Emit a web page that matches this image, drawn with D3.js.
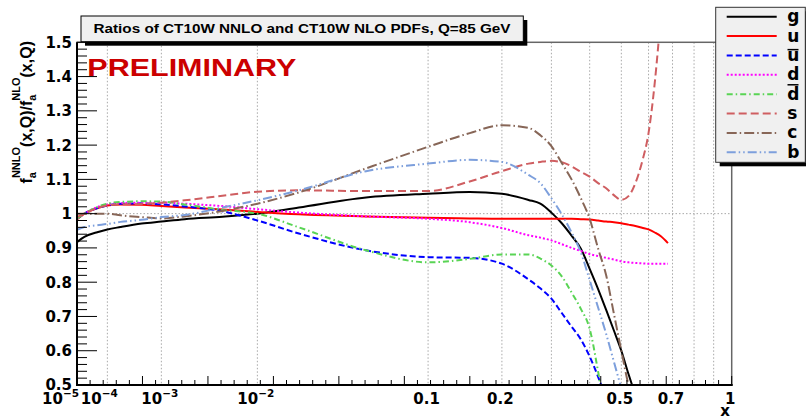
<!DOCTYPE html>
<html>
<head>
<meta charset="utf-8" />
<script src="https://d3js.org/d3.v7.min.js"></script>
<style>
    body { margin: 0; background: #fff; }
    svg { display: block; }
    text { font-family: "Liberation Sans", Arial, sans-serif; font-weight: bold; }
</style>
</head>
<body>
<svg id="chart" width="806" height="418"></svg>
<script>
    // ---- data (ratio NNLO/NLO at Q = 85 GeV) ----
    var xGrid = [1e-5, 2e-5, 5e-5, 1e-4, 2e-4, 5e-4, 1e-3, 2e-3, 5e-3, 0.01, 0.02, 0.05,
                 0.1, 0.15, 0.2, 0.25, 0.275, 0.3, 0.325, 0.35, 0.375, 0.4, 0.425, 0.45,
                 0.475, 0.5, 0.525, 0.55, 0.575, 0.6, 0.625, 0.65, 0.68];

    var gluon = [0.917, 0.932, 0.945, 0.954, 0.961, 0.971, 0.977, 0.984, 0.991, 1.0, 1.018, 1.047,
                 1.058, 1.063, 1.058, 1.040, 1.029, 1.003, 0.972, 0.936, 0.898, 0.839, 0.780, 0.719,
                 0.659, 0.600, 0.532, 0.47, null, null, null, null, null];
    var upQ = [0.983, 1.0, 1.015, 1.024, 1.027, 1.026, 1.022, 1.018, 1.012, 1.005, 0.998, 0.992,
               0.988, 0.986, 0.985, 0.985, 0.985, 0.985, 0.985, 0.985, 0.984, 0.983, 0.980, 0.977,
               0.975, 0.972, 0.968, 0.964, 0.959, 0.954, 0.945, 0.934, 0.914];
    var upBar = [0.985, 1.0, 1.015, 1.024, 1.029, 1.030, 1.027, 1.021, 1.007, 0.980, 0.942, 0.893,
                 0.873, 0.871, 0.854, 0.808, 0.782, 0.752, 0.710, 0.670, 0.633, 0.583, 0.524, 0.46,
                 null, null, null, null, null, null, null, null, null];
    var downQ = [0.985, 1.0, 1.018, 1.027, 1.031, 1.032, 1.032, 1.029, 1.022, 1.013, 1.003, 0.992,
                 0.985, 0.975, 0.958, 0.937, 0.930, 0.922, 0.911, 0.900, 0.891, 0.882, 0.876, 0.871,
                 0.866, 0.861, 0.858, 0.856, 0.855, 0.854, 0.854, 0.854, 0.854];
    var downBar = [0.985, 1.0, 1.018, 1.029, 1.034, 1.036, 1.035, 1.027, 1.011, 1.0, 0.960, 0.893,
                   0.858, 0.868, 0.881, 0.881, 0.869, 0.849, 0.817, 0.770, 0.722, 0.664, 0.539, 0.40,
                   null, null, null, null, null, null, null, null, null];
    var strange = [0.99, 1.0, 1.015, 1.024, 1.027, 1.028, 1.032, 1.039, 1.052, 1.064, 1.068, 1.066,
                   1.066, 1.094, 1.124, 1.146, 1.151, 1.154, 1.150, 1.138, 1.122, 1.108, 1.089, 1.074,
                   1.054, 1.040, 1.051, 1.089, 1.151, 1.235, 1.383, 1.58, null];
    var charm = [1.0, 1.0, 1.0, 1.0, 0.995, 0.99, 0.986, 0.992, 1.008, 1.029, 1.062, 1.132,
                 1.195, 1.235, 1.258, 1.250, 1.229, 1.197, 1.148, 1.100, 1.045, 0.985, 0.898, 0.820,
                 0.708, 0.600, 0.50, 0.43, null, null, null, null, null];
    var bottom = [0.953, 0.961, 0.966, 0.970, 0.976, 0.982, 0.990, 0.996, 1.018, 1.039, 1.068, 1.124,
                  1.146, 1.157, 1.151, 1.113, 1.089, 1.045, 0.998, 0.945, 0.887, 0.806, 0.726, 0.649,
                  0.568, 0.49, null, null, null, null, null, null, null];

    var flavourNames = ["g", "u", "u", "d", "d", "s", "c", "b"];
    var flavourBar = [false, false, true, false, true, false, false, false];
    var flavourValues = [gluon, upQ, upBar, downQ, downBar, strange, charm, bottom];

    var xTickValues = [1e-5, 1e-4, 1e-3, 1e-2, 0.1, 0.2, 0.5, 0.7, 1];
    var xTickLabels = ["10^-5", "10^-4", "10^-3", "10^-2", "0.1", "0.2", "0.5", "0.7", "1"];
    var xGridValues = [1e-4, 1e-3, 1e-2, 0.1, 0.2, 0.3, 0.4, 0.5, 0.6, 0.7, 0.8, 0.9];

    var titleText = "Ratios of CT10W NNLO and CT10W NLO PDFs, Q=85 GeV";

    // ---- styles (ROOT-like colours / line styles) ----
    var colours = ["#000000", "#ff0000", "#0000ff", "#ff00ff", "#59d454", "#cf5e61", "#876657", "#7d9fdc"];
    var dashes = [null, null, "6,3", "2,2", "6,3,1.5,3", "8,4", "10,3,1.5,3", "9,3,1.5,3,1.5,3"];

    var svg = d3.select("#chart");
    var frame = {left: 77, right: 731.7, top: 42.3, bottom: 385};

    var x = d3.scalePow().exponent(0.25).domain([1e-5, 1]).range([frame.left, frame.right]);
    var y = d3.scaleLinear().domain([0.5, 1.5]).range([frame.bottom, frame.top]);

    svg.append("rect").attr("width", 806).attr("height", 418).attr("fill", "#fff");

    svg.append("defs").append("clipPath").attr("id", "plotclip").append("rect")
        .attr("x", frame.left).attr("y", frame.top)
        .attr("width", frame.right - frame.left).attr("height", frame.bottom - frame.top);

    // grid
    var grid = svg.append("g").attr("stroke", "#a8a8a8").attr("stroke-dasharray", "1.5,2");
    grid.selectAll("line.v").data(xGridValues).enter().append("line")
        .attr("x1", function(d) { return x(d); }).attr("x2", function(d) { return x(d); })
        .attr("y1", frame.top).attr("y2", frame.bottom);
    grid.append("line")
        .attr("x1", frame.left).attr("x2", frame.right)
        .attr("y1", y(1)).attr("y2", y(1));

    // curves
    var line = d3.line()
        .defined(function(d) { return d[1] != null; })
        .x(function(d) { return x(d[0]); })
        .y(function(d) { return y(d[1]); })
        .curve(d3.curveMonotoneX);

    var curves = svg.append("g").attr("clip-path", "url(#plotclip)");
    curves.selectAll("path").data(flavourValues).enter().append("path")
        .attr("d", function(vals) { return line(xGrid.map(function(xv, i) { return [xv, vals[i]]; })); })
        .attr("fill", "none")
        .attr("stroke", function(d, i) { return colours[i]; })
        .attr("stroke-width", 2)
        .attr("stroke-dasharray", function(d, i) { return dashes[i]; });

    // frame
    svg.append("rect")
        .attr("x", frame.left).attr("y", frame.top)
        .attr("width", frame.right - frame.left).attr("height", frame.bottom - frame.top)
        .attr("fill", "none").attr("stroke", "#666").attr("stroke-width", 1.5);
    svg.append("line").attr("x1", frame.left).attr("x2", frame.left)
        .attr("y1", frame.top).attr("y2", frame.bottom + 1).attr("stroke", "#000").attr("stroke-width", 2);
    svg.append("line").attr("x1", frame.left - 1).attr("x2", frame.right + 1)
        .attr("y1", frame.bottom).attr("y2", frame.bottom).attr("stroke", "#000").attr("stroke-width", 2);

    // x ticks: ROOT style, uniform in the x^(1/4) coordinate
    var tickPos = d3.scaleLinear().domain([0, 50]).range(x.range());
    svg.append("g").attr("stroke", "#000").selectAll("line").data(d3.range(0, 51)).enter().append("line")
        .attr("x1", function(i) { return tickPos(i); }).attr("x2", function(i) { return tickPos(i); })
        .attr("y1", frame.bottom).attr("y2", function(i) { return frame.bottom - (i % 5 === 0 ? 9 : 5); });

    // y ticks
    svg.append("g").attr("stroke", "#000").selectAll("line").data(y.ticks(50)).enter().append("line")
        .attr("y1", function(d) { return y(d); }).attr("y2", function(d) { return y(d); })
        .attr("x1", frame.left)
        .attr("x2", function(d) { return frame.left + (Math.round(d * 100) % 10 === 0 ? 20 : 10); });

    // y labels
    svg.append("g").selectAll("text").data(y.ticks(10)).enter().append("text")
        .attr("x", 72).attr("y", function(d) { return y(d); }).attr("dy", "0.36em")
        .attr("text-anchor", "end").style("font-family", "DejaVu Sans").attr("font-size", 15)
        .text(function(d) { return String(+d.toFixed(1)); });

    // x labels (the first two are pushed apart, as in the original)
    var xl = svg.append("g");
    xTickValues.forEach(function(v, i) {
        var parts = xTickLabels[i].split("^");
        var t = xl.append("text").attr("y", 404)
            .style("font-family", "DejaVu Sans").attr("font-size", 15);
        if (i === 0) t.attr("x", x(v) + 2).attr("text-anchor", "end");
        else if (i === 1) t.attr("x", x(v) - 26.5).attr("text-anchor", "start");
        else t.attr("x", x(v) - 1.5).attr("text-anchor", "middle");
        t.append("tspan").text(parts[0]);
        if (parts[1]) {
            t.append("tspan").attr("font-size", 10.5).attr("dy", -7).text(parts[1].replace("-", "\u2212"));
        }
    });

    svg.append("text").attr("x", 730).attr("y", 415.5).attr("text-anchor", "end")
        .style("font-family", "DejaVu Sans").attr("font-size", 15).text("x");

    // y title f_a^NNLO(x,Q)/f_a^NLO(x,Q)
    var yt = svg.append("text").attr("transform", "translate(32,41) rotate(-90)")
        .attr("text-anchor", "end").attr("font-size", 16);
    yt.append("tspan").text("f");
    yt.append("tspan").attr("font-size", 11).attr("dy", 4).text("a");
    yt.append("tspan").attr("font-size", 11).attr("dx", -6.1).attr("dy", -16).text("NNLO");
    yt.append("tspan").attr("dy", 12).text("(x,Q)/f");
    yt.append("tspan").attr("font-size", 11).attr("dy", 4).text("a");
    yt.append("tspan").attr("font-size", 11).attr("dx", -6.1).attr("dy", -16).text("NLO");
    yt.append("tspan").attr("dy", 12).text("(x,Q)");

    // PRELIMINARY
    svg.append("text").attr("x", 87.3).attr("y", 76).attr("font-size", 23)
        .attr("fill", "#cc0000").attr("textLength", 209).attr("lengthAdjust", "spacingAndGlyphs")
        .text("PRELIMINARY");

    // title box
    svg.append("rect").attr("x", 85).attr("y", 20).attr("width", 442.3).attr("height", 25.7).attr("fill", "#000");
    svg.append("rect").attr("x", 81).attr("y", 16).attr("width", 442.3).attr("height", 25.7)
        .attr("fill", "#f0f0f0").attr("stroke", "#000").attr("stroke-width", 1);
    svg.append("text").attr("x", 302).attr("y", 33).attr("text-anchor", "middle").attr("font-size", 13)
        .attr("textLength", 417).attr("lengthAdjust", "spacingAndGlyphs").text(titleText);

    // legend
    var leg = svg.append("g");
    leg.append("rect").attr("x", 719.7).attr("y", 11.3).attr("width", 89.6).attr("height", 155).attr("fill", "#000");
    leg.append("rect").attr("x", 715.7).attr("y", 7.3).attr("width", 89.6).attr("height", 155)
        .attr("fill", "#f0f0f0").attr("stroke", "#333").attr("stroke-width", 1);
    var rowY = d3.scaleLinear().domain([0, 7]).range([16.7, 152.3]);
    flavourNames.forEach(function(name, i) {
        var ry = rowY(i);
        leg.append("line").attr("x1", 726.7).attr("x2", 776.7).attr("y1", ry).attr("y2", ry)
            .attr("stroke", colours[i]).attr("stroke-width", 2).attr("stroke-dasharray", dashes[i]);
        leg.append("text").attr("x", 787.3).attr("y", ry + 5.5)
            .style("font-family", "DejaVu Sans").attr("font-size", 17).text(name);
        if (flavourBar[i]) {
            var top = /[bdfhklt]/.test(name) ? 12.9 : 9.3;
            leg.append("line").attr("x1", 787.5).attr("x2", 798.5)
                .attr("y1", ry + 5.5 - top - 2).attr("y2", ry + 5.5 - top - 2)
                .attr("stroke", "#000").attr("stroke-width", 1.5);
        }
    });
</script>
</body>
</html>
